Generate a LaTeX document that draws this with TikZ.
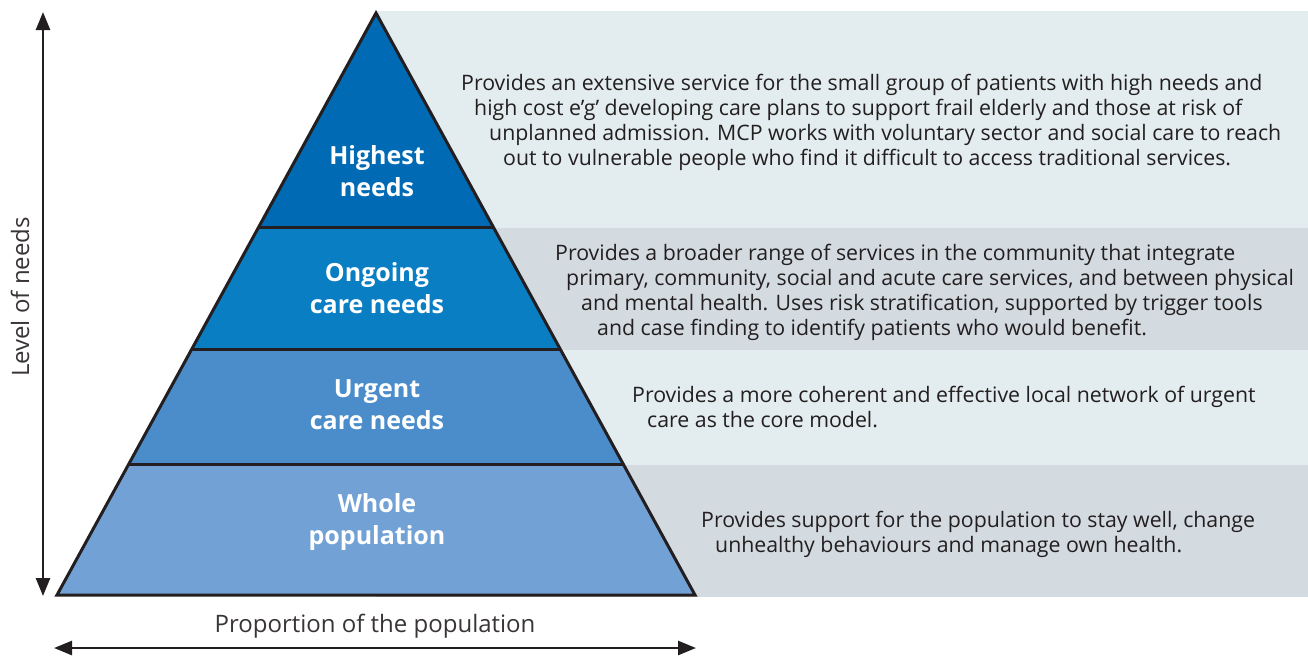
\documentclass[tikz,border=0pt]{standalone}
\usepackage{fontspec}
\setmainfont{Open Sans}
\usetikzlibrary{arrows.meta}
\definecolor{ink}{HTML}{231F20}
\definecolor{tierA}{HTML}{006BB4}
\definecolor{tierB}{HTML}{0A7EC3}
\definecolor{tierC}{HTML}{4B8DCB}
\definecolor{tierD}{HTML}{72A2D5}
\definecolor{bandlight}{HTML}{E3ECEE}
\definecolor{banddark}{HTML}{D3DAE0}
\tikzset{
  tierlabel/.style={text=white, font=\fontsize{25}{32}\selectfont\bfseries, align=center},
  desc/.style={text=ink, font=\fontsize{21.3}{25}\selectfont, anchor=base west, inner sep=0pt},
  axislabel/.style={text=ink!90, font=\fontsize{24}{28}\selectfont, inner sep=0pt},
  outline/.style={draw=ink, line width=3pt, line join=miter},
  axisarrow/.style={draw=ink, line width=2.6pt, {Triangle[length=18pt,width=14pt]}-{Triangle[length=18pt,width=14pt]}}
}
\begin{document}
\begin{tikzpicture}[x=1pt, y=-1pt]
\useasboundingbox (0,0) rectangle (1308,657);

% background bands behind the descriptions
\fill[bandlight] (376,11) rectangle (1308,228);
\fill[banddark]  (376,228) rectangle (1308,350);
\fill[bandlight] (376,350) rectangle (1308,465);
\fill[banddark]  (376,465) rectangle (1308,597);

% pyramid corners and tier boundaries
\coordinate (apex) at (376,13);
\coordinate (l1) at (259,227); \coordinate (r1) at (493,227);
\coordinate (l2) at (192,349); \coordinate (r2) at (560,349);
\coordinate (l3) at (129,464); \coordinate (r3) at (623,464);
\coordinate (bl) at (57,595);  \coordinate (br) at (695,595);

% tiers
\fill[tierA] (apex) -- (r1) -- (l1) -- cycle;
\fill[tierB] (l1) -- (r1) -- (r2) -- (l2) -- cycle;
\fill[tierC] (l2) -- (r2) -- (r3) -- (l3) -- cycle;
\fill[tierD] (l3) -- (r3) -- (br) -- (bl) -- cycle;
\draw[outline] (l1) -- (r1) (l2) -- (r2) (l3) -- (r3);
\draw[outline] (apex) -- (br) -- (bl) -- cycle;

% tier labels
\node[tierlabel] (highest) at (377,171) {Highest\\needs};
\node[tierlabel] (ongoing) at (377,288) {Ongoing\\care needs};
\node[tierlabel] (urgent)  at (377,405) {Urgent\\care needs};
\node[tierlabel] (whole)   at (377,522) {Whole\\population};

% descriptions
\node[desc] (d1a) at (461,90)  {Provides an extensive service for the small group of patients with high needs and};
\node[desc] (d1b) at (474,115) {high cost e’g’ developing care plans to support frail elderly and those at risk of};
\node[desc] (d1c) at (489,140) {unplanned admission. MCP works with voluntary sector and social care to reach};
\node[desc] (d1d) at (503,165) {out to vulnerable people who find it difficult to access traditional services.};

\node[desc] (d2a) at (555,260) {Provides a broader range of services in the community that integrate};
\node[desc] (d2b) at (566,285) {primary, community, social and acute care services, and between physical};
\node[desc] (d2c) at (581,310) {and mental health. Uses risk stratification, supported by trigger tools};
\node[desc] (d2d) at (597,335) {and case finding to identify patients who would benefit.};

\node[desc] (d3a) at (632,402) {Provides a more coherent and effective local network of urgent};
\node[desc] (d3b) at (647,427) {care as the core model.};

\node[desc] (d4a) at (701,527) {Provides support for the population to stay well, change};
\node[desc] (d4b) at (715,552) {unhealthy behaviours and manage own health.};

% axes
\coordinate (vtop) at (43,12);
\coordinate (vbot) at (43,596);
\draw[axisarrow] (vbot) -- (vtop);
\node[axislabel, rotate=90] (level) at (20,297) {Level of needs};

\coordinate (hleft) at (54,648);
\coordinate (hright) at (696,648);
\draw[axisarrow] (hleft) -- (hright);
\node[axislabel] (prop) at (375,626) {Proportion of the population};
\end{tikzpicture}
\end{document}
